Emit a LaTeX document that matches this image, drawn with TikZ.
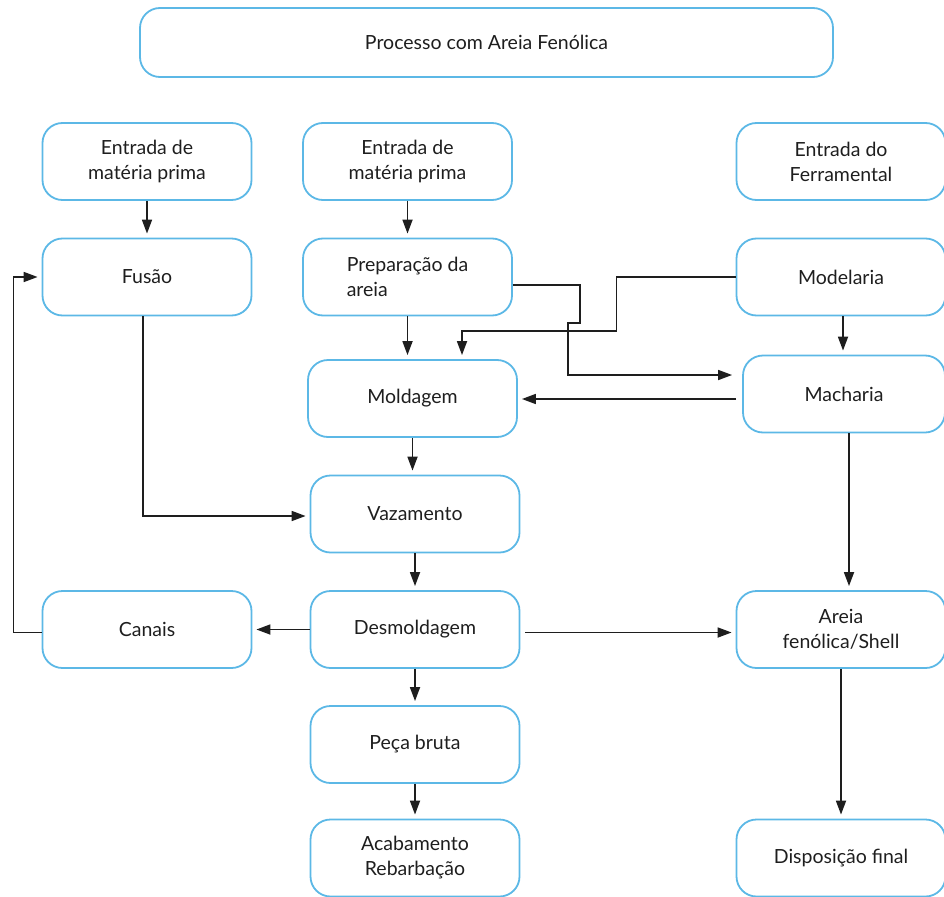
\documentclass[tikz,border=0pt]{standalone}
\usepackage{fontspec}
\setmainfont{Lato}
\usetikzlibrary{arrows.meta}
\definecolor{azulcaixa}{RGB}{92,184,230}
\definecolor{cinzatexto}{RGB}{30,30,30}

\begin{document}
\begin{tikzpicture}[x=1pt,y=-1pt,
  etapa/.style={draw=azulcaixa,line width=1.8pt,rounded corners=20pt,
    minimum width=\caixal,minimum height=\caixaa,inner sep=0pt,
    align=center,text=cinzatexto,font=\fontsize{19.5}{25}\selectfont},
  fluxo/.style={draw=cinzatexto,line width=1.7pt,
    -{Triangle[length=14pt,width=10pt]},shorten >=4pt}]
\pgfmathsetmacro{\caixal}{209}
\pgfmathsetmacro{\caixaa}{77}
\useasboundingbox (0,0) rectangle (944,896);
\node[etapa,minimum width=693,minimum height=69] (titulo) at (486.5,42.5) {Processo com Areia Fenólica};
\node[etapa] (ent1) at (147,161.5) {Entrada de\\matéria prima};
\node[etapa] (fusao) at (147,277) {Fusão};
\node[etapa] (canais) at (147,629.5) {Canais};
\node[etapa] (ent2) at (407.5,161.5) {Entrada de\\matéria prima};
\node[etapa,align=left] (prep) at (407.5,277) {Preparação da\\areia};
\node[etapa] (mold) at (412.5,398.5) {Moldagem};
\node[etapa] (vaz) at (415,514) {Vazamento};
\node[etapa] (desm) at (415,629.5) {Desmoldagem};
\node[etapa] (peca) at (415,744.5) {Peça bruta};
\node[etapa] (acab) at (415,858) {Acabamento\\Rebarbação};
\node[etapa] (ent3) at (841,161.5) {Entrada do\\Ferramental};
\node[etapa] (model) at (841,277) {Modelaria};
\node[etapa,minimum width=202] (mach) at (844,394) {Macharia};
\node[etapa] (areia) at (841,629.5) {Areia\\fenólica/Shell};
\node[etapa] (disp) at (841,858) {Disposição final};
\draw[fluxo] (ent1) -- (fusao);
\draw[fluxo] ([xshift=-4pt]fusao.south) |- ([yshift=-2pt]vaz.west);
\draw[fluxo] (ent2) -- (prep);
\draw[fluxo] (prep.south) -- (prep.south |- mold.north);
\draw[fluxo] ([yshift=-8pt]prep.east) -- ++(67,0) -- ++(0,38) -- ++(-12,0) |- ([xshift=-6pt,yshift=19pt]mach.west);
\draw[fluxo] (model.west) -- ++(-119,0) -- ++(0,54) -| ([xshift=49.5pt]mold.north);
\draw[fluxo] ([xshift=2pt]model.south) -- ([xshift=2pt]model.south |- mach.north);
\draw[fluxo] ([xshift=-6pt,yshift=-5pt]mach.west) -- ([yshift=-5pt]mach.west -| mold.east);
\draw[fluxo] (mold.south) -- (mold.south |- vaz.north);
\draw[fluxo] (vaz) -- (desm);
\draw[fluxo] (desm) -- (canais);
\draw[fluxo] ([yshift=-3pt]canais.west) -- ++(-28,0) |- (fusao.west);
\draw[fluxo] ([xshift=5pt,yshift=-3pt]desm.east) -- ([yshift=-3pt]areia.west);
\draw[fluxo] ([xshift=5pt]mach.south) -- ([xshift=5pt]mach.south |- areia.north);
\draw[fluxo] (desm) -- (peca);
\draw[fluxo] (peca) -- (acab);
\draw[fluxo] (areia) -- (disp);
\end{tikzpicture}
\end{document}
